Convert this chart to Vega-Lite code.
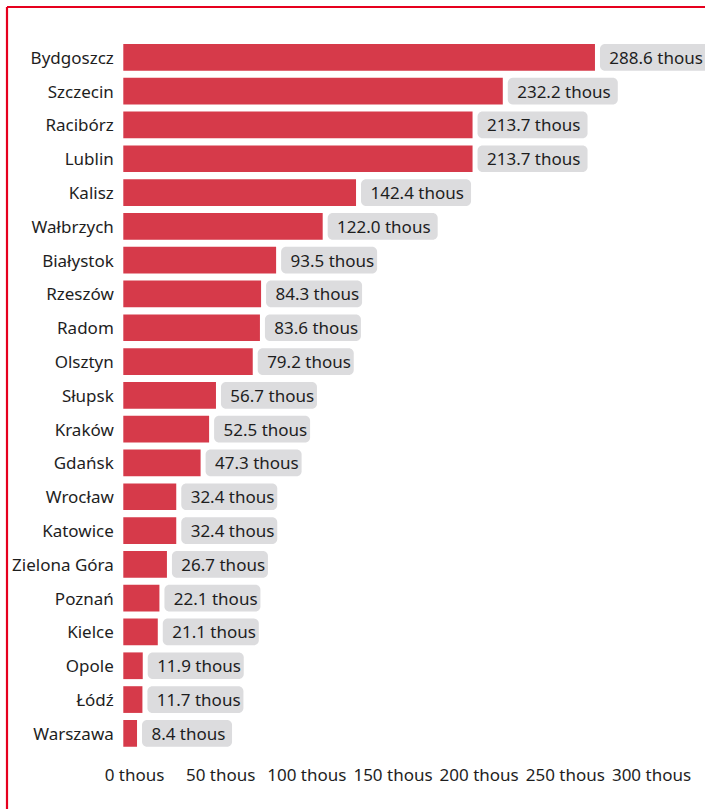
{
  "$schema": "https://vega.github.io/schema/vega-lite/v6.json",
  "width": 698,
  "height": 802,
  "autosize": {"type": "none"},
  "padding": {"left": 7, "top": 7, "right": 0, "bottom": 0},
  "background": "white",
  "config": {
    "font": "Noto Sans",
    "view": {"stroke": "#e6001e", "strokeWidth": 2.2, "strokeDash": [698, 1500, 802, 0]}
  },
  "data": {
    "values": [
      {"city": "Bydgoszcz", "value": 288.6, "label": "288.6 thous"},
      {"city": "Szczecin", "value": 232.2, "label": "232.2 thous"},
      {"city": "Racibórz", "value": 213.7, "label": "213.7 thous"},
      {"city": "Lublin", "value": 213.7, "label": "213.7 thous"},
      {"city": "Kalisz", "value": 142.4, "label": "142.4 thous"},
      {"city": "Wałbrzych", "value": 122.0, "label": "122.0 thous"},
      {"city": "Białystok", "value": 93.5, "label": "93.5 thous"},
      {"city": "Rzeszów", "value": 84.3, "label": "84.3 thous"},
      {"city": "Radom", "value": 83.6, "label": "83.6 thous"},
      {"city": "Olsztyn", "value": 79.2, "label": "79.2 thous"},
      {"city": "Słupsk", "value": 56.7, "label": "56.7 thous"},
      {"city": "Kraków", "value": 52.5, "label": "52.5 thous"},
      {"city": "Gdańsk", "value": 47.3, "label": "47.3 thous"},
      {"city": "Wrocław", "value": 32.4, "label": "32.4 thous"},
      {"city": "Katowice", "value": 32.4, "label": "32.4 thous"},
      {"city": "Zielona Góra", "value": 26.7, "label": "26.7 thous"},
      {"city": "Poznań", "value": 22.1, "label": "22.1 thous"},
      {"city": "Kielce", "value": 21.1, "label": "21.1 thous"},
      {"city": "Opole", "value": 11.9, "label": "11.9 thous"},
      {"city": "Łódź", "value": 11.7, "label": "11.7 thous"},
      {"city": "Warszawa", "value": 8.4, "label": "8.4 thous"}
    ]
  },
  "encoding": {
    "y": {
      "field": "city",
      "type": "nominal",
      "sort": null,
      "scale": {"range": [33.6, 743.1], "paddingInner": 0.21, "paddingOuter": 0.1},
      "axis": {
        "title": null,
        "domain": false,
        "ticks": false,
        "tickSize": 0,
        "grid": false,
        "labelPadding": 10,
        "labelOffset": 1.5,
        "offset": -116.3,
        "labelFontSize": 17,
        "labelColor": "#1e1e1e",
        "labelFont": "Noto Sans"
      }
    }
  },
  "layer": [
    {
      "mark": {"type": "point", "opacity": 0},
      "encoding": {
        "x": {
          "field": "value",
          "type": "quantitative",
          "scale": {"domain": [0, 300], "range": [127, 644], "nice": false, "zero": false},
          "axis": {
            "orient": "bottom",
            "offset": -42,
            "values": [0, 50, 100, 150, 200, 250, 300],
            "labelExpr": "datum.value + ' thous'",
            "domain": false,
            "ticks": false,
            "tickSize": 0,
            "grid": false,
            "labelPadding": 0,
            "title": null,
            "labelFontSize": 17,
            "labelColor": "#1e1e1e",
            "labelFont": "Noto Sans",
            "labelFlush": false,
            "labelOverlap": false
          }
        }
      }
    },
    {
      "mark": {"type": "bar", "color": "#d63a4a"},
      "encoding": {
        "x": {"field": "value", "type": "quantitative", "scale": {"domain": [0, 300], "range": [116.3, 606.6], "nice": false}, "axis": null}
      }
    },
    {
      "transform": [{"filter": "datum.value >= 100"}],
      "mark": {"type": "bar", "color": "#dcdcde", "cornerRadius": 5, "xOffset": 5, "x2Offset": 115},
      "encoding": {
        "x": {"field": "value", "type": "quantitative", "scale": {"domain": [0, 300], "range": [116.3, 606.6], "nice": false}, "axis": null},
        "x2": {"field": "value"}
      }
    },
    {
      "transform": [{"filter": "datum.value >= 10 && datum.value < 100"}],
      "mark": {"type": "bar", "color": "#dcdcde", "cornerRadius": 5, "xOffset": 5, "x2Offset": 101},
      "encoding": {
        "x": {"field": "value", "type": "quantitative", "scale": {"domain": [0, 300], "range": [116.3, 606.6], "nice": false}, "axis": null},
        "x2": {"field": "value"}
      }
    },
    {
      "transform": [{"filter": "datum.value < 10"}],
      "mark": {"type": "bar", "color": "#dcdcde", "cornerRadius": 5, "xOffset": 5, "x2Offset": 95},
      "encoding": {
        "x": {"field": "value", "type": "quantitative", "scale": {"domain": [0, 300], "range": [116.3, 606.6], "nice": false}, "axis": null},
        "x2": {"field": "value"}
      }
    },
    {
      "mark": {"type": "text", "align": "left", "baseline": "middle", "dx": 14.4, "dy": 1.5, "fontSize": 17, "color": "#1e1e1e", "font": "Noto Sans"},
      "encoding": {
        "x": {"field": "value", "type": "quantitative", "scale": {"domain": [0, 300], "range": [116.3, 606.6], "nice": false}, "axis": null},
        "text": {"field": "label"}
      }
    }
  ],
  "resolve": {"scale": {"x": "independent"}, "axis": {"x": "independent"}}
}
